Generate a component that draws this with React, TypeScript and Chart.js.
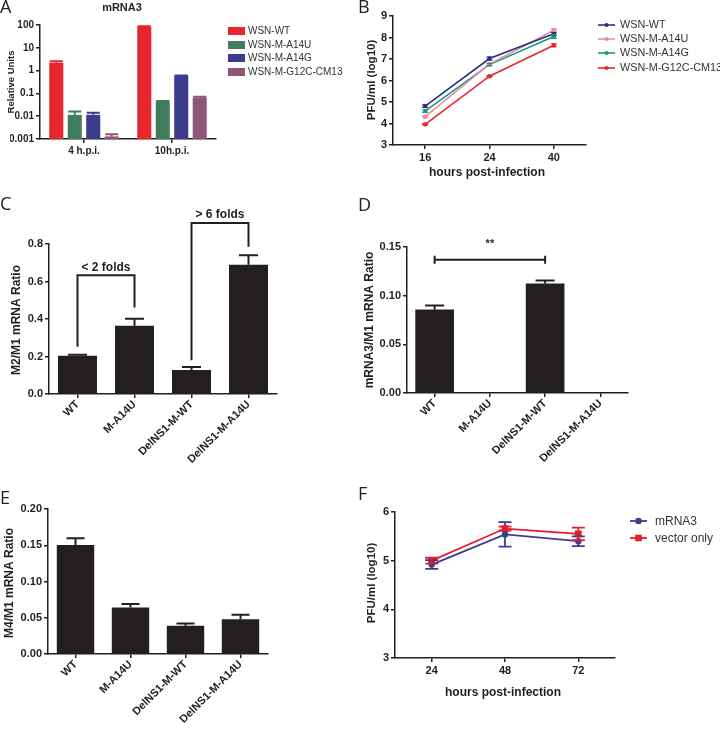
import React, { useEffect, useRef } from 'react';
import { Chart, registerables } from 'chart.js';

Chart.register(...registerables);

const W = 720;
const H = 729;
const FONT = "'Liberation Sans', Arial, Helvetica, sans-serif";
const LETTER_FONT = "'Open Sans', 'Noto Sans', sans-serif";
const INK = '#231f20';

// ---------- Panel A: mRNA3 (log scale bars) ----------
const A_CATEGORIES = ['4 h.p.i.', '10h.p.i.'];
const A_SERIES = ['WSN-WT', 'WSN-M-A14U', 'WSN-M-A14G', 'WSN-M-G12C-CM13'];
const A_COLORS = ['#e8262d', '#3e7d5e', '#3c3b8e', '#8e5777'];
const A_WT = [2.2, 84];
const A_WT_ERR = [0.4, 4];
const A_A14U = [0.0115, 0.045];
const A_A14U_ERR = [0.0045, 0.002];
const A_A14G = [0.0115, 0.59];
const A_A14G_ERR = [0.0025, 0.02];
const A_G12C = [0.0013, 0.066];
const A_G12C_ERR = [0.0003, 0.006];
const A_TICKS = [0.001, 0.01, 0.1, 1, 10, 100];

// ---------- Panel B: growth curves ----------
const B_HOURS = ['16', '24', '40'];
const B_SERIES = ['WSN-WT', 'WSN-M-A14U', 'WSN-M-A14G', 'WSN-M-G12C-CM13'];
const B_COLORS = ['#2b2c86', '#e98aaa', '#1a9a6c', '#e8262d'];
const B_WT = [4.81, 7.02, 8.18];
const B_WT_ERR = [0.06, 0.07, 0.06];
const B_A14U = [4.32, 6.76, 8.34];
const B_A14U_ERR = [0.05, 0.05, 0.06];
const B_A14G = [4.58, 6.74, 8.05];
const B_A14G_ERR = [0.06, 0.05, 0.08];
const B_G12C = [3.96, 6.2, 7.64];
const B_G12C_ERR = [0.03, 0.03, 0.07];

// ---------- Panels C, D, E: ratio bars ----------
const RATIO_CATEGORIES = ['WT', 'M-A14U', 'DelNS1-M-WT', 'DelNS1-M-A14U'];
const C_VALUES = [0.204, 0.364, 0.128, 0.69];
const C_ERRORS = [0.006, 0.038, 0.016, 0.05];
const D_VALUES = [0.0859, 0.0005, 0.1125, 0.0005];
const D_ERRORS = [0.0041, 0, 0.003, 0];
const E_VALUES = [0.1505, 0.0642, 0.039, 0.048];
const E_ERRORS = [0.0091, 0.0046, 0.003, 0.006];

// ---------- Panel F ----------
const F_HOURS = ['24', '48', '72'];
const F_SERIES = ['mRNA3', 'vector only'];
const F_COLORS = ['#3d3d8f', '#e41f2a'];
const F_MRNA3 = [4.92, 5.54, 5.4];
const F_MRNA3_ERR = [0.09, 0.25, 0.1];
const F_VECTOR = [5.0, 5.66, 5.55];
const F_VECTOR_ERR = [0.06, 0.04, 0.13];

type Area = { l: number; t: number; r: number; b: number };
const A_AREA: Area = { l: 40, t: 25, r: 216, b: 139 };
const B_AREA: Area = { l: 393, t: 16, r: 586, b: 145 };
const C_AREA: Area = { l: 49, t: 244, r: 277, b: 394 };
const D_AREA: Area = { l: 407, t: 247, r: 628, b: 393 };
const E_AREA: Area = { l: 48, t: 509, r: 268, b: 654 };
const F_AREA: Area = { l: 395, t: 512, r: 615, b: 658 };

const YW = 30;

function frame(a: Area, xh: number) {
  return {
    padding: { left: a.l - YW, top: a.t, right: W - a.r, bottom: H - a.b - xh },
  };
}

function axisBase(size: number) {
  return {
    border: { display: true, color: INK, width: 1.5 },
    grid: {
      display: true,
      drawOnChartArea: false,
      drawTicks: true,
      tickLength: 4,
      color: INK,
      lineWidth: 1.5,
      offset: false,
    },
    ticks: { color: INK, font: { family: FONT, size, weight: 'bold' as const }, padding: 2 },
  };
}

function xCat(xh: number, size: number, rot: number) {
  const base = axisBase(size);
  return {
    type: 'category' as const,
    offset: true,
    ...base,
    ticks: { ...base.ticks, autoSkip: false, minRotation: rot, maxRotation: rot, padding: rot ? 0 : 2 },
    afterFit: (s: any) => {
      s.height = xh;
    },
  };
}

function yLin(min: number, max: number, step: number, dec: number, size: number) {
  const base = axisBase(size);
  return {
    type: 'linear' as const,
    min,
    max,
    ...base,
    ticks: { ...base.ticks, stepSize: step, callback: (v: any) => Number(v).toFixed(dec) },
    afterFit: (s: any) => {
      s.width = YW;
    },
  };
}

type T = {
  text: string;
  x: number;
  y: number;
  size: number;
  weight?: string;
  align?: CanvasTextAlign;
  rot?: number;
  family?: string;
  color?: string;
};

function textPlugin(items: T[]) {
  return {
    id: 'texts',
    afterDraw(chart: any) {
      const c = chart.ctx as CanvasRenderingContext2D;
      items.forEach((it) => {
        c.save();
        c.translate(it.x, it.y);
        if (it.rot) c.rotate(it.rot);
        c.font = `${it.weight || 'normal'} ${it.size}px ${it.family || FONT}`;
        c.fillStyle = it.color || INK;
        c.textAlign = it.align || 'center';
        c.textBaseline = 'middle';
        c.fillText(it.text, 0, 0);
        c.restore();
      });
    },
  };
}

const errorBarPlugin = {
  id: 'errorBars',
  afterDatasetsDraw(chart: any) {
    const ctx = chart.ctx as CanvasRenderingContext2D;
    chart.data.datasets.forEach((ds: any, i: number) => {
      if (!ds.errors) return;
      const meta = chart.getDatasetMeta(i);
      const ys = chart.scales[meta.yAxisID];
      ctx.save();
      ctx.strokeStyle = ds.errorColor || ds.borderColor;
      ctx.lineWidth = ds.errorWidth || 1.5;
      meta.data.forEach((el: any, j: number) => {
        const v = ds.data[j];
        const e = ds.errors[j];
        if (!e) return;
        const x = el.x;
        const yT = ys.getPixelForValue(v + e);
        const yB = ds.errorBoth ? ys.getPixelForValue(v - e) : el.y;
        const w = (ds.capWidth || 8) / 2;
        ctx.beginPath();
        ctx.moveTo(x, yB);
        ctx.lineTo(x, yT);
        ctx.moveTo(x - w, yT);
        ctx.lineTo(x + w, yT);
        if (ds.errorBoth) {
          ctx.moveTo(x - w, yB);
          ctx.lineTo(x + w, yB);
        }
        ctx.stroke();
      });
      ctx.restore();
    });
  },
};

function boxLegendPlugin(labels: string[], colors: string[], x: number, ys: number[], size: number) {
  return {
    id: 'boxLegend',
    afterDraw(chart: any) {
      const c = chart.ctx as CanvasRenderingContext2D;
      c.save();
      c.font = `normal ${size}px ${FONT}`;
      c.textBaseline = 'middle';
      c.textAlign = 'left';
      labels.forEach((lab, i) => {
        c.fillStyle = colors[i];
        c.fillRect(x, ys[i] - 4, 17, 8);
        c.fillStyle = '#333';
        c.fillText(lab, x + 20, ys[i] + 0.5);
      });
      c.restore();
    },
  };
}

function lineLegendPlugin(
  labels: string[],
  colors: string[],
  styles: string[],
  radius: number,
  x: number,
  ys: number[],
  size: number,
  lw: number,
  textGap: number
) {
  return {
    id: 'lineLegend',
    afterDraw(chart: any) {
      const c = chart.ctx as CanvasRenderingContext2D;
      c.save();
      c.font = `normal ${size}px ${FONT}`;
      c.textBaseline = 'middle';
      c.textAlign = 'left';
      labels.forEach((lab, i) => {
        const y = ys[i];
        c.strokeStyle = colors[i];
        c.fillStyle = colors[i];
        c.lineWidth = lw;
        c.beginPath();
        c.moveTo(x, y);
        c.lineTo(x + 17, y);
        c.stroke();
        const cx = x + 8.5;
        if (styles[i] === 'rect') {
          c.fillRect(cx - radius, y - radius, radius * 2, radius * 2);
        } else {
          c.beginPath();
          c.arc(cx, y, radius, 0, Math.PI * 2);
          c.fill();
        }
        c.fillStyle = '#333';
        c.fillText(lab, x + textGap, y + 0.5);
      });
      c.restore();
    },
  };
}

// Bracket annotations for panel C (data coordinates)
const C_BRACKETS = [
  { from: 0, to: 1, top: 0.633, leftEnd: 0.252, rightEnd: 0.462, label: '< 2 folds' },
  { from: 2, to: 3, top: 0.912, leftEnd: 0.18, rightEnd: 0.786, label: '> 6 folds' },
];
// Significance bar for panel D
const D_SIG = { from: 0, to: 2, y: 0.137, label: '**' };

const cBracketPlugin = {
  id: 'cBrackets',
  afterDraw(chart: any) {
    const c = chart.ctx as CanvasRenderingContext2D;
    const xs = chart.scales.x;
    const ys = chart.scales.y;
    c.save();
    c.strokeStyle = INK;
    c.fillStyle = INK;
    c.lineWidth = 2;
    C_BRACKETS.forEach((b) => {
      const x1 = xs.getPixelForValue(b.from);
      const x2 = xs.getPixelForValue(b.to);
      const yt = ys.getPixelForValue(b.top);
      c.beginPath();
      c.moveTo(x1, ys.getPixelForValue(b.leftEnd));
      c.lineTo(x1, yt);
      c.lineTo(x2, yt);
      c.lineTo(x2, ys.getPixelForValue(b.rightEnd));
      c.stroke();
      c.font = `bold 12px ${FONT}`;
      c.textAlign = 'center';
      c.textBaseline = 'middle';
      c.fillText(b.label, (x1 + x2) / 2, yt - 8);
    });
    c.restore();
  },
};

const dSigPlugin = {
  id: 'dSig',
  afterDraw(chart: any) {
    const c = chart.ctx as CanvasRenderingContext2D;
    const xs = chart.scales.x;
    const ys = chart.scales.y;
    const x1 = xs.getPixelForValue(D_SIG.from);
    const x2 = xs.getPixelForValue(D_SIG.to);
    const y = ys.getPixelForValue(D_SIG.y);
    c.save();
    c.strokeStyle = INK;
    c.fillStyle = INK;
    c.lineWidth = 2;
    c.beginPath();
    c.moveTo(x1, y);
    c.lineTo(x2, y);
    c.moveTo(x1, y - 4);
    c.lineTo(x1, y + 4);
    c.moveTo(x2, y - 4);
    c.lineTo(x2, y + 4);
    c.stroke();
    c.font = `bold 11px ${FONT}`;
    c.textAlign = 'center';
    c.textBaseline = 'middle';
    c.fillText(D_SIG.label, (x1 + x2) / 2, y - 16);
    c.restore();
  },
};

const ROT = -Math.PI / 2;
const noPlug = { legend: { display: false }, tooltip: { enabled: false }, title: { display: false } };

function cfgA(): any {
  const vals = [A_WT, A_A14U, A_A14G, A_G12C];
  const errs = [A_WT_ERR, A_A14U_ERR, A_A14G_ERR, A_G12C_ERR];
  const base = axisBase(10);
  return {
    type: 'bar',
    data: {
      labels: A_CATEGORIES,
      datasets: A_SERIES.map((name, i) => ({
        label: name,
        data: vals[i],
        errors: errs[i],
        backgroundColor: A_COLORS[i],
        borderColor: A_COLORS[i],
        borderWidth: 0,
        barPercentage: 0.76,
        categoryPercentage: 0.84,
        capWidth: 13,
        errorWidth: 2,
      })),
    },
    options: {
      responsive: false,
      animation: false,
      layout: frame(A_AREA, 20),
      plugins: noPlug,
      scales: {
        x: xCat(20, 10, 0),
        y: {
          type: 'logarithmic',
          min: 0.001,
          max: 100,
          ...base,
          ticks: { ...base.ticks, callback: (v: any) => String(v) },
          afterBuildTicks: (s: any) => {
            s.ticks = A_TICKS.map((v) => ({ value: v }));
          },
          afterFit: (s: any) => {
            s.width = YW;
          },
        },
      },
    },
    plugins: [
      textPlugin([
        { text: 'A', x: 0, y: 8, size: 18, family: LETTER_FONT, align: 'left', color: '#222' },
        { text: 'mRNA3', x: 122, y: 8, size: 11, weight: 'bold' },
        { text: 'Relative Units', x: 11, y: 82, size: 9.5, weight: 'bold', rot: ROT },
      ]),
      boxLegendPlugin(A_SERIES, A_COLORS, 228, [31, 45, 58, 72], 10),
    ],
  };
}

function cfgB(): any {
  const vals = [B_WT, B_A14U, B_A14G, B_G12C];
  const errs = [B_WT_ERR, B_A14U_ERR, B_A14G_ERR, B_G12C_ERR];
  return {
    type: 'line',
    data: {
      labels: B_HOURS,
      datasets: B_SERIES.map((name, i) => ({
        label: name,
        data: vals[i],
        errors: errs[i],
        errorBoth: true,
        borderColor: B_COLORS[i],
        backgroundColor: B_COLORS[i],
        borderWidth: 1.6,
        pointRadius: 2.2,
        pointBorderWidth: 0,
        pointBackgroundColor: B_COLORS[i],
        capWidth: 6,
        errorWidth: 1.2,
        tension: 0,
      })),
    },
    options: {
      responsive: false,
      animation: false,
      layout: frame(B_AREA, 20),
      plugins: noPlug,
      scales: {
        x: xCat(20, 11, 0),
        y: yLin(3, 9, 1, 0, 11),
      },
    },
    plugins: [
      textPlugin([
        { text: 'B', x: 358, y: 8, size: 18, family: LETTER_FONT, align: 'left', color: '#222' },
        { text: 'PFU/ml (log10)', x: 372, y: 80, size: 11.5, weight: 'bold', rot: ROT },
        { text: 'hours post-infection', x: 487, y: 173, size: 12, weight: 'bold' },
      ]),
      lineLegendPlugin(B_SERIES, B_COLORS, ['circle', 'circle', 'circle', 'circle'], 2, 598, [25, 39, 53, 68], 10.8, 1.6, 22),
    ],
  };
}

function ratioBar(
  area: Area,
  values: number[],
  errors: number[],
  max: number,
  step: number,
  dec: number,
  frac: number,
  cap: number,
  texts: T[],
  extra: any[]
): any {
  return {
    type: 'bar',
    data: {
      labels: RATIO_CATEGORIES,
      datasets: [
        {
          data: values,
          errors,
          backgroundColor: INK,
          borderColor: INK,
          borderWidth: 0,
          barPercentage: 1,
          categoryPercentage: frac,
          capWidth: cap,
          errorWidth: 2,
        },
      ],
    },
    options: {
      responsive: false,
      animation: false,
      layout: frame(area, 70),
      plugins: noPlug,
      scales: {
        x: xCat(70, 11, 45),
        y: yLin(0, max, step, dec, 11),
      },
    },
    plugins: [textPlugin(texts), ...extra],
  };
}

function cfgC(): any {
  return ratioBar(C_AREA, C_VALUES, C_ERRORS, 0.8, 0.2, 1, 0.684, 19, [
    { text: 'C', x: 0, y: 205, size: 18, family: LETTER_FONT, align: 'left', color: '#222' },
    { text: 'M2/M1 mRNA Ratio', x: 17, y: 320, size: 12, weight: 'bold', rot: ROT },
  ], [cBracketPlugin]);
}

function cfgD(): any {
  return ratioBar(D_AREA, D_VALUES, D_ERRORS, 0.15, 0.05, 2, 0.7, 19, [
    { text: 'D', x: 358, y: 206, size: 18, family: LETTER_FONT, align: 'left', color: '#222' },
    { text: 'mRNA3/M1 mRNA Ratio', x: 370, y: 320, size: 12, weight: 'bold', rot: ROT },
  ], [dSigPlugin]);
}

function cfgE(): any {
  return ratioBar(E_AREA, E_VALUES, E_ERRORS, 0.2, 0.05, 2, 0.68, 18, [
    { text: 'E', x: 0, y: 499, size: 18, family: LETTER_FONT, align: 'left', color: '#222' },
    { text: 'M4/M1 mRNA Ratio', x: 10, y: 583, size: 12, weight: 'bold', rot: ROT },
  ], []);
}

function cfgF(): any {
  const vals = [F_MRNA3, F_VECTOR];
  const errs = [F_MRNA3_ERR, F_VECTOR_ERR];
  const styles = ['circle', 'rect'];
  const radii = [3.2, 4.8];
  return {
    type: 'line',
    data: {
      labels: F_HOURS,
      datasets: F_SERIES.map((name, i) => ({
        label: name,
        data: vals[i],
        errors: errs[i],
        errorBoth: true,
        borderColor: F_COLORS[i],
        backgroundColor: F_COLORS[i],
        borderWidth: 1.8,
        pointStyle: styles[i],
        pointRadius: radii[i],
        pointBorderWidth: 0,
        pointBackgroundColor: F_COLORS[i],
        capWidth: 13,
        errorWidth: 1.8,
        tension: 0,
      })),
    },
    options: {
      responsive: false,
      animation: false,
      layout: frame(F_AREA, 20),
      plugins: noPlug,
      scales: {
        x: xCat(20, 11, 0),
        y: yLin(3, 6, 1, 0, 11),
      },
    },
    plugins: [
      textPlugin([
        { text: 'F', x: 358, y: 495, size: 18, family: LETTER_FONT, align: 'left', color: '#222' },
        { text: 'PFU/ml (log10)', x: 372, y: 583, size: 11.5, weight: 'bold', rot: ROT },
        { text: 'hours post-infection', x: 503, y: 693, size: 12, weight: 'bold' },
      ]),
      lineLegendPlugin(F_SERIES, F_COLORS, styles, 3.3, 630, [521, 538], 12, 1.8, 25),
    ],
  };
}

Chart.register(errorBarPlugin as any);

export default function App() {
  const refs = useRef<(HTMLCanvasElement | null)[]>([]);
  useEffect(() => {
    const cfgs = [cfgA(), cfgB(), cfgC(), cfgD(), cfgE(), cfgF()];
    const charts = cfgs.map((cfg, i) => new Chart(refs.current[i] as HTMLCanvasElement, cfg));
    return () => charts.forEach((c) => c.destroy());
  }, []);
  return (
    <div
      style={{
        position: 'absolute',
        left: 0,
        top: 0,
        width: W,
        height: H,
        background: '#fff',
        overflow: 'hidden',
      }}
    >
      {[0, 1, 2, 3, 4, 5].map((i) => (
        <canvas
          key={i}
          ref={(el) => {
            refs.current[i] = el;
          }}
          width={W}
          height={H}
          style={{ position: 'absolute', left: 0, top: 0 }}
        />
      ))}
    </div>
  );
}
